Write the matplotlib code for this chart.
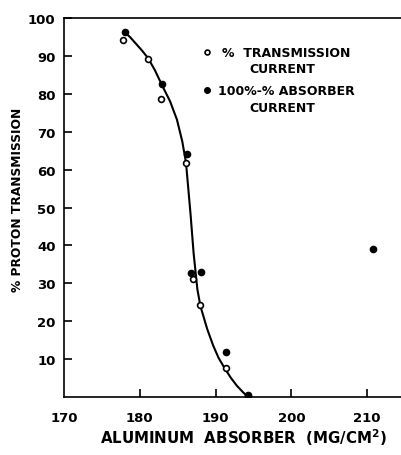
import matplotlib.pyplot as plt

# open circles: % transmission current
trans_x = [177.8, 181.1, 182.8, 186.1, 187.0, 187.9, 191.4, 194.3]
trans_y = [94.2, 89.2, 78.7, 61.8, 31.1, 24.2, 7.6, 0.2]

# filled circles: 100% - % absorber current
absorb_x = [178.0, 182.9, 186.2, 186.8, 188.1, 191.4, 194.3, 210.8]
absorb_y = [96.3, 82.6, 64.2, 32.8, 33.0, 12.0, 0.6, 39.0]

# hand-drawn curve through the points
curve_x = [177.9, 178.7, 179.5, 180.3, 181.1, 182.0, 182.9, 184.0, 184.9, 185.6,
           186.1, 186.4, 186.7, 187.1, 187.6, 188.0, 188.9, 189.7, 190.4, 191.2,
           192.0, 192.8, 193.6, 194.3]
curve_y = [96.4, 95.0, 93.2, 91.4, 89.4, 86.2, 82.4, 78.0, 73.2, 67.5,
           61.8, 55.0, 48.2, 38.0, 28.4, 24.0, 17.9, 13.5, 10.3, 7.6,
           5.1, 3.0, 1.3, 0.0]

xticks = [180, 190, 200, 210]
yticks = [10, 20, 30, 40, 50, 60, 70, 80, 90, 100]

plt.rcParams['font.family'] = 'DejaVu Sans'
fig = plt.figure(figsize=(4.02, 4.56), dpi=100)
ax = fig.add_axes([64 / 402, 1 - 398 / 456, 1 - 64 / 402, (398 - 19) / 456])

ax.plot(curve_x, curve_y, color='black', lw=1.5, zorder=2)
ax.plot(trans_x, trans_y, 'o', ms=4.2, mfc='white', mec='black', mew=1.2, zorder=3)
ax.plot(absorb_x, absorb_y, 'o', ms=4.5, color='black', zorder=4)

ax.set_xlim(170, 214.6)
ax.set_ylim(0, 100)
ax.spines['right'].set_visible(False)
for s in ['left', 'bottom', 'top']:
    ax.spines[s].set_linewidth(1.2)

ax.set_xticks(xticks)
ax.set_xticklabels([])
ax.set_yticks(yticks)
ax.set_yticklabels([str(v) for v in yticks], fontsize=9.5, fontweight='bold')
ax.tick_params(axis='both', direction='in', length=6, width=1.2)
ax.tick_params(axis='y', pad=6)

# x tick labels (170 sits at the corner)
for v in [170] + xticks:
    ax.text(v, -5.3, str(v), ha='center', va='center', fontsize=9.5,
            fontweight='bold', transform=ax.transData, clip_on=False)

fig.text(243 / 402, 1 - 438 / 456, 'ALUMINUM  ABSORBER  (MG/CM$^\\mathbf{2}$)',
         ha='center', va='center', fontsize=10.8, fontweight='bold')
fig.text(18 / 402, 1 - 200 / 456, '% PROTON TRANSMISSION', rotation=90,
         ha='center', va='center', fontsize=8.8, fontweight='bold')

# legend drawn by hand
ax.plot([188.9], [91.0], 'o', ms=3.5, mfc='white', mec='black', mew=1.2)
ax.text(190.8, 91.0, '%  TRANSMISSION', fontsize=9, fontweight='bold', va='center')
ax.text(198.8, 86.8, 'CURRENT', fontsize=9, fontweight='bold', va='center', ha='center')
ax.plot([188.9], [81.0], 'o', ms=4, color='black')
ax.text(190.3, 81.0, '100%-% ABSORBER', fontsize=9, fontweight='bold', va='center')
ax.text(198.8, 76.3, 'CURRENT', fontsize=9, fontweight='bold', va='center', ha='center')

fig.savefig('out.png', dpi=100)
